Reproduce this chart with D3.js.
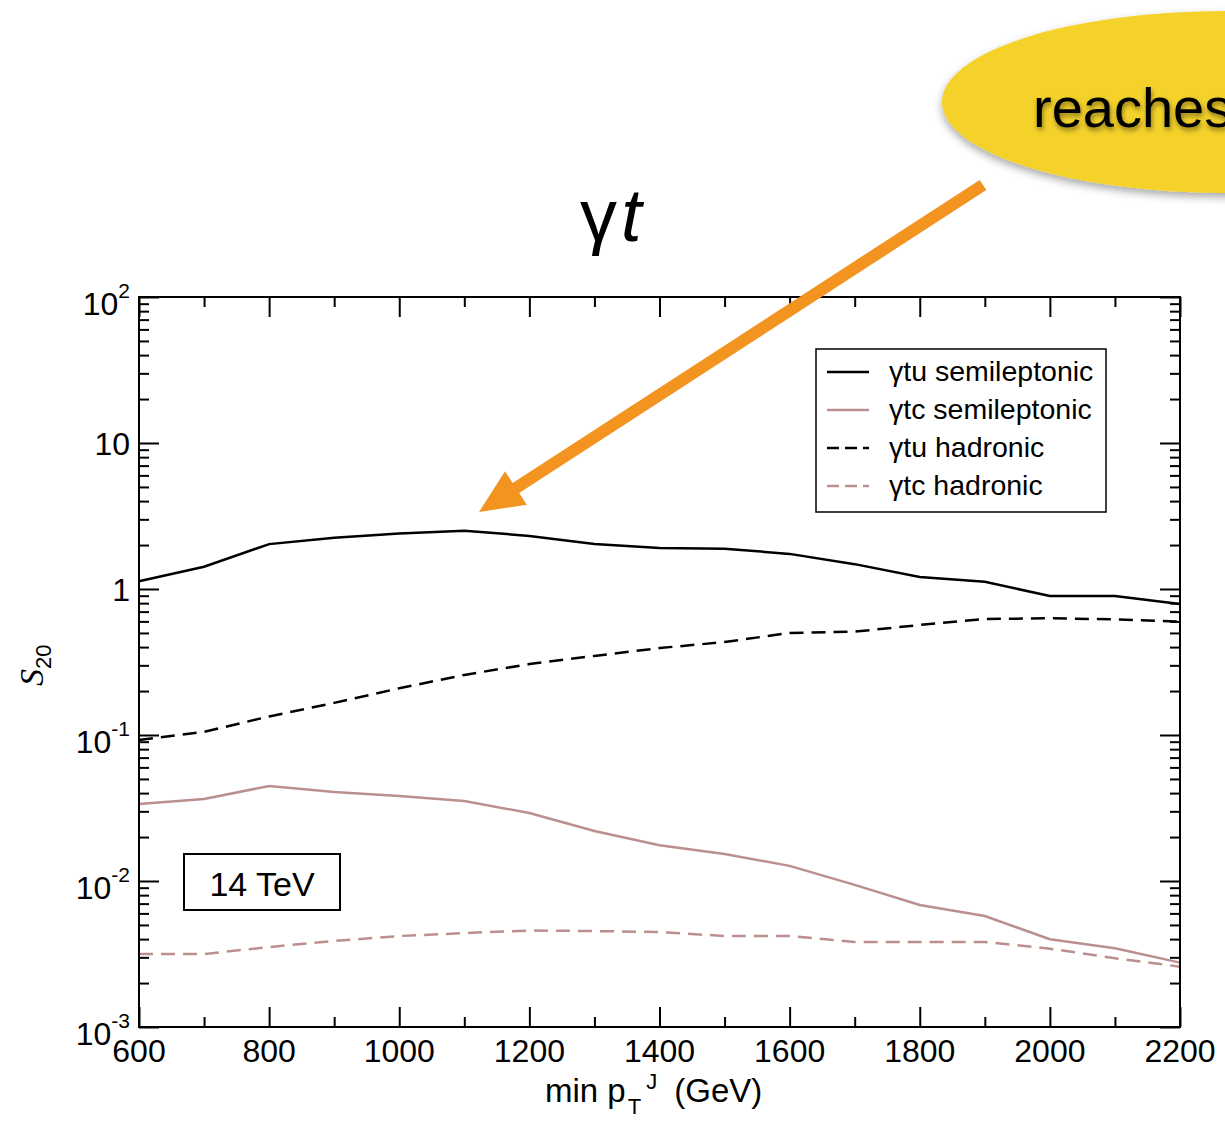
<!DOCTYPE html>
<html>
<head>
<meta charset="utf-8">
<script src="https://cdn.jsdelivr.net/npm/d3@7"></script>
<style>
  html, body { margin: 0; padding: 0; background: #fff; }
  svg { display: block; }
  text { font-family: "Liberation Sans", Arial, sans-serif; fill: #000; }
</style>
</head>
<body>
<svg id="chart" width="1225" height="1131"></svg>
<script>
// transverse-momentum cut values (GeV)
const ptCut = [600, 700, 800, 900, 1000, 1100, 1200, 1300, 1400, 1500, 1600, 1700, 1800, 1900, 2000, 2100, 2200];

// S_20 per channel
const tuSemileptonic = [1.13, 1.42, 2.03, 2.24, 2.40, 2.51, 2.31, 2.03, 1.91, 1.89, 1.74, 1.48, 1.21, 1.12, 0.895, 0.895, 0.79];
const tcSemileptonic = [0.0337, 0.0365, 0.0447, 0.0407, 0.0382, 0.0353, 0.0292, 0.0220, 0.0176, 0.0153, 0.0127, 0.0094, 0.00685, 0.00576, 0.00399, 0.00346, 0.00276];
const tuHadronic = [0.0925, 0.105, 0.134, 0.166, 0.209, 0.258, 0.306, 0.348, 0.394, 0.433, 0.500, 0.51, 0.567, 0.623, 0.63, 0.62, 0.597];
const tcHadronic = [0.00316, 0.00316, 0.00353, 0.00388, 0.0042, 0.0044, 0.00458, 0.00454, 0.00447, 0.0042, 0.0042, 0.00382, 0.00382, 0.00382, 0.00344, 0.00296, 0.00259];

const seriesNames = ["\u03B3tu semileptonic", "\u03B3tc semileptonic", "\u03B3tu hadronic", "\u03B3tc hadronic"];

// axis ticks
const xMajorTicks = [600, 800, 1000, 1200, 1400, 1600, 1800, 2000, 2200];
const xMinorTicks = [700, 900, 1100, 1300, 1500, 1700, 1900, 2100];
const yTickValues = [1e-3, 1e-2, 1e-1, 1, 10, 100];
const yTickBase = ["10", "10", "10", "1", "10", "10"];
const yTickExp = ["-3", "-2", "-1", "", "", "2"];

const svg = d3.select("#chart");

const plot = { left: 139, right: 1180, top: 297, bottom: 1027 };
const x = d3.scaleLinear().domain([600, 2200]).range([plot.left, plot.right]);
const y = d3.scaleLog().domain([1e-3, 1e2]).range([plot.bottom, plot.top]);

const yMinorTicks = [];
for (let e = -3; e < 2; e++) for (let m = 2; m <= 9; m++) yMinorTicks.push(m * Math.pow(10, e));

// ---- callout bubble and arrow ----
const defs = svg.append("defs");
const sh = defs.append("filter").attr("id", "bubbleShadow")
  .attr("x", "-20%").attr("y", "-20%").attr("width", "140%").attr("height", "150%");
sh.append("feDropShadow").attr("dx", 0).attr("dy", 4).attr("stdDeviation", 4)
  .attr("flood-color", "#000").attr("flood-opacity", 0.35);
const tsh = defs.append("filter").attr("id", "textShadow")
  .attr("x", "-10%").attr("y", "-30%").attr("width", "120%").attr("height", "160%");
tsh.append("feDropShadow").attr("dx", 1).attr("dy", 3).attr("stdDeviation", 2.5)
  .attr("flood-color", "#000").attr("flood-opacity", 0.45);

svg.append("ellipse")
  .attr("cx", 1226).attr("cy", 102).attr("rx", 284).attr("ry", 91)
  .attr("fill", "#f4d22a").attr("filter", "url(#bubbleShadow)");
svg.append("text")
  .attr("x", 1033).attr("y", 127)
  .attr("font-family", "Lato, 'Open Sans', sans-serif")
  .attr("font-size", 56)
  .attr("filter", "url(#textShadow)")
  .text("reaches");

// title
const title = svg.append("text")
  .attr("x", 580).attr("y", 241)
  .attr("font-family", "Lato, 'Open Sans', sans-serif")
  .attr("font-size", 74);
title.append("tspan").text("\u03B3");
title.append("tspan").attr("font-style", "italic").attr("dx", 4).text("t");

// ---- axes ----
const g = svg.append("g");

function tickAxis(axisFn, scale, values, size, translate) {
  g.append("g")
    .attr("transform", translate)
    .call(axisFn(scale).tickValues(values).tickSizeInner(size).tickSizeOuter(0).tickFormat(""))
    .call(s => s.select(".domain").remove())
    .call(s => s.selectAll("line").attr("stroke", "#000").attr("stroke-width", 2));
}

// bottom / top (ticks pointing into the frame)
tickAxis(d3.axisBottom, x, xMajorTicks, -20, `translate(0,${plot.bottom})`);
tickAxis(d3.axisBottom, x, xMinorTicks, -10, `translate(0,${plot.bottom})`);
tickAxis(d3.axisTop, x, xMajorTicks, -20, `translate(0,${plot.top})`);
tickAxis(d3.axisTop, x, xMinorTicks, -10, `translate(0,${plot.top})`);
// left / right
tickAxis(d3.axisLeft, y, yTickValues, -20, `translate(${plot.left},0)`);
tickAxis(d3.axisLeft, y, yMinorTicks, -10, `translate(${plot.left},0)`);
tickAxis(d3.axisRight, y, yTickValues, -20, `translate(${plot.right},0)`);
tickAxis(d3.axisRight, y, yMinorTicks, -10, `translate(${plot.right},0)`);

// x tick labels
g.selectAll(".xlab").data(xMajorTicks).join("text")
  .attr("class", "xlab")
  .attr("x", d => x(d)).attr("y", 1062)
  .attr("text-anchor", "middle")
  .attr("font-size", 32)
  .text(d => d);

// y tick labels: 10 with superscript exponent
yTickValues.forEach((v, i) => {
  const t = g.append("text")
    .attr("x", 130)
    .attr("y", y(v) + (yTickExp[i] ? 18 : 12))
    .attr("text-anchor", "end")
    .attr("font-size", 32);
  t.append("tspan").text(yTickBase[i]);
  if (yTickExp[i]) {
    t.append("tspan").attr("font-size", 21).attr("dy", -17).text(yTickExp[i]);
  }
});

// x axis title: min p_T^J (GeV)
const xt = g.append("text").attr("x", 545).attr("y", 1102).attr("font-size", 33);
xt.append("tspan").text("min p");
xt.append("tspan").attr("font-size", 22).attr("dx", 2).attr("dy", 12).text("T");
xt.append("tspan").attr("font-size", 22).attr("dx", 5).attr("dy", -25).text("J");
xt.append("tspan").attr("dx", 8).attr("dy", 13).text(" (GeV)");

// y axis title: S_20
const yt = g.append("text")
  .attr("transform", "translate(43,686) rotate(-90)");
yt.append("tspan").attr("font-family", "'Liberation Serif', serif").attr("font-style", "italic")
  .attr("font-size", 34).text("S");
yt.append("tspan").attr("font-size", 22).attr("dy", 8).text("20");

// ---- data lines ----
const series = [
  { name: seriesNames[0], values: tuSemileptonic, color: "#000000", dash: null },
  { name: seriesNames[1], values: tcSemileptonic, color: "#bc8f8f", dash: null },
  { name: seriesNames[2], values: tuHadronic, color: "#000000", dash: "14,8" },
  { name: seriesNames[3], values: tcHadronic, color: "#bc8f8f", dash: "14,8" }
];

const line = d3.line().x((d, i) => x(ptCut[i])).y(d => y(d));

g.selectAll(".series").data(series).join("path")
  .attr("class", "series")
  .attr("d", d => line(d.values))
  .attr("fill", "none")
  .attr("stroke", d => d.color)
  .attr("stroke-width", 2.5)
  .attr("stroke-dasharray", d => d.dash);

// frame
g.append("rect")
  .attr("x", plot.left).attr("y", plot.top)
  .attr("width", plot.right - plot.left).attr("height", plot.bottom - plot.top)
  .attr("fill", "none").attr("stroke", "#000").attr("stroke-width", 2);

// legend
const leg = g.append("g");
leg.append("rect")
  .attr("x", 816).attr("y", 349).attr("width", 290).attr("height", 163)
  .attr("fill", "#fff").attr("stroke", "#000").attr("stroke-width", 1.5);
series.forEach((s, i) => {
  const ly = 372 + i * 38;
  leg.append("line")
    .attr("x1", 827).attr("x2", 869).attr("y1", ly).attr("y2", ly)
    .attr("stroke", s.color).attr("stroke-width", 2.5)
    .attr("stroke-dasharray", s.dash ? "12,6" : null);
  leg.append("text")
    .attr("x", 889).attr("y", ly + 9)
    .attr("font-size", 28.5)
    .text(s.name);
});

// energy label
g.append("rect")
  .attr("x", 184).attr("y", 854).attr("width", 156).attr("height", 56)
  .attr("fill", "#fff").attr("stroke", "#000").attr("stroke-width", 2);
g.append("text")
  .attr("x", 262).attr("y", 896)
  .attr("text-anchor", "middle")
  .attr("font-size", 34)
  .text("14 TeV");

// orange arrow drawn over the chart
const ax0 = 983, ay0 = 185, ax1 = 479, ay1 = 512;
const ang = Math.atan2(ay1 - ay0, ax1 - ax0);
const headLen = 44, headHalf = 20;
const bx = ax1 - headLen * Math.cos(ang), by = ay1 - headLen * Math.sin(ang);
svg.append("line")
  .attr("x1", ax0).attr("y1", ay0)
  .attr("x2", bx + 6 * Math.cos(ang)).attr("y2", by + 6 * Math.sin(ang))
  .attr("stroke", "#f39320").attr("stroke-width", 12);
svg.append("path")
  .attr("d", d3.line()([
    [ax1, ay1],
    [bx - headHalf * Math.sin(ang), by + headHalf * Math.cos(ang)],
    [bx + headHalf * Math.sin(ang), by - headHalf * Math.cos(ang)]
  ]) + "Z")
  .attr("fill", "#f39320");
</script>
</body>
</html>
